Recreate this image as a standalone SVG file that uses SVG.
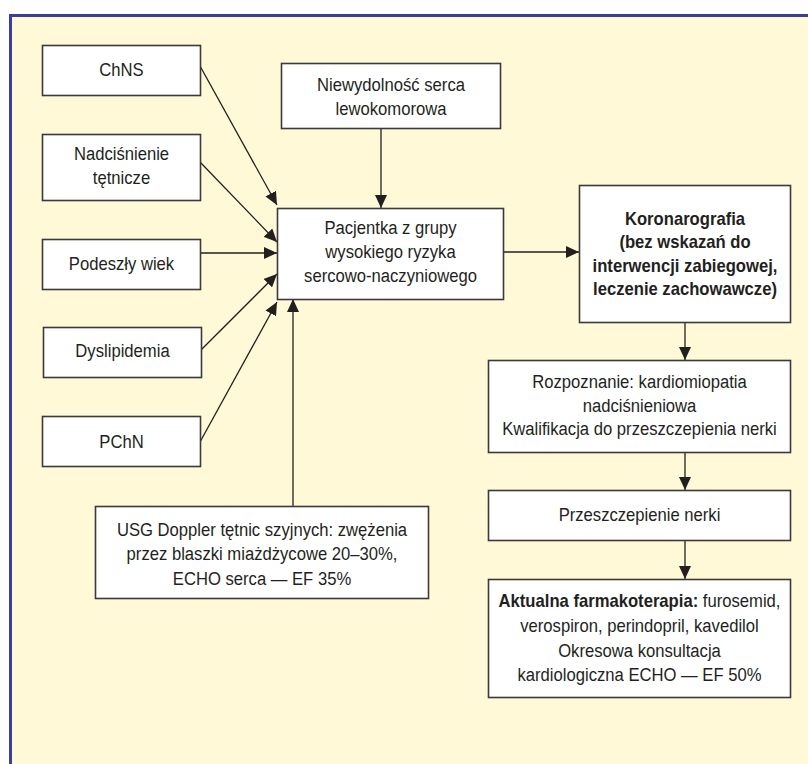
<svg xmlns="http://www.w3.org/2000/svg" width="808" height="764" viewBox="0 0 808 764">
<defs>
<style>
.box{fill:#fff;stroke:#3a3a3a;stroke-width:1.6}
.t{font-family:"Liberation Sans",Arial,sans-serif;font-size:18.5px;fill:#231f20;text-anchor:middle}
.b{font-weight:bold}
.c{fill:none;stroke:#231f20;stroke-width:1.3}
</style>
<marker id="ah" markerUnits="userSpaceOnUse" markerWidth="14" markerHeight="12" refX="13" refY="6" orient="auto">
<path d="M0,0 L13,6 L0,12 z" fill="#231f20"/>
</marker>
</defs>
<rect x="0" y="0" width="808" height="764" fill="#fff"/>
<rect x="10.5" y="15.5" width="810" height="760" fill="#fff9d7" stroke="#3b3e9a" stroke-width="3"/>

<g id="connectors">
<line class="c" x1="200" y1="66" x2="277" y2="205" marker-end="url(#ah)"/>
<line class="c" x1="200" y1="162" x2="277" y2="242" marker-end="url(#ah)"/>
<line class="c" x1="200" y1="253" x2="277" y2="253" marker-end="url(#ah)"/>
<line class="c" x1="201" y1="350" x2="277" y2="274" marker-end="url(#ah)"/>
<line class="c" x1="200" y1="442" x2="277" y2="302" marker-end="url(#ah)"/>
<line class="c" x1="293" y1="506" x2="293" y2="299" marker-end="url(#ah)"/>
<line class="c" x1="381" y1="128" x2="381" y2="208" marker-end="url(#ah)"/>
<line class="c" x1="503" y1="252" x2="579" y2="252" marker-end="url(#ah)"/>
<line class="c" x1="685" y1="322" x2="685" y2="360" marker-end="url(#ah)"/>
<line class="c" x1="685" y1="452" x2="685" y2="490" marker-end="url(#ah)"/>
<line class="c" x1="685" y1="540" x2="685" y2="579" marker-end="url(#ah)"/>
</g>

<g id="chns">
<rect class="box" x="42.5" y="45.5" width="158" height="50"/>
<g transform="translate(121.5 0) scale(0.9 1)"><text class="t" x="0" y="76">ChNS</text></g>
</g>
<g id="nadcisnienie">
<rect class="box" x="42.5" y="134.5" width="158" height="66"/>
<g transform="translate(121.5 0) scale(0.9 1)">
<text class="t" x="0" y="160">Nadciśnienie</text>
<text class="t" x="0" y="184">tętnicze</text>
</g>
</g>
<g id="wiek">
<rect class="box" x="42.5" y="239.5" width="158" height="50"/>
<g transform="translate(121.5 0) scale(0.9 1)"><text class="t" x="0" y="270">Podeszły wiek</text></g>
</g>
<g id="dyslipidemia">
<rect class="box" x="43.5" y="327.5" width="158" height="50"/>
<g transform="translate(122.5 0) scale(0.9 1)"><text class="t" x="0" y="357">Dyslipidemia</text></g>
</g>
<g id="pchn">
<rect class="box" x="42.5" y="416.5" width="158" height="50"/>
<g transform="translate(121.5 0) scale(0.9 1)"><text class="t" x="0" y="448">PChN</text></g>
</g>
<g id="niewydolnosc">
<rect class="box" x="281.5" y="63.5" width="219" height="65"/>
<g transform="translate(391 0) scale(0.9 1)">
<text class="t" x="0" y="91">Niewydolność serca</text>
<text class="t" x="0" y="115">lewokomorowa</text>
</g>
</g>
<g id="pacjentka">
<rect class="box" x="277.5" y="208.5" width="226" height="91"/>
<g transform="translate(390.5 0) scale(0.9 1)">
<text class="t" x="0" y="234">Pacjentka z grupy</text>
<text class="t" x="0" y="258">wysokiego ryzyka</text>
<text class="t" x="0" y="282">sercowo-naczyniowego</text>
</g>
</g>
<g id="koronarografia">
<rect class="box" x="579.5" y="185.5" width="211" height="137"/>
<g transform="translate(685 0) scale(0.9 1)">
<text class="t b" x="0" y="225">Koronarografia</text>
<text class="t b" x="0" y="248">(bez wskazań do</text>
<text class="t b" x="0" y="272">interwencji zabiegowej,</text>
<text class="t b" x="0" y="295">leczenie zachowawcze)</text>
</g>
</g>
<g id="rozpoznanie">
<rect class="box" x="488.5" y="360.5" width="302" height="92"/>
<g transform="translate(639.5 0) scale(0.9 1)">
<text class="t" x="0" y="388">Rozpoznanie: kardiomiopatia</text>
<text class="t" x="0" y="412">nadciśnieniowa</text>
<text class="t" x="0" y="435">Kwalifikacja do przeszczepienia nerki</text>
</g>
</g>
<g id="przeszczepienie">
<rect class="box" x="488.5" y="490.5" width="302" height="50"/>
<g transform="translate(639.5 0) scale(0.9 1)"><text class="t" x="0" y="521">Przeszczepienie nerki</text></g>
</g>
<g id="farmakoterapia">
<rect class="box" x="488.5" y="579.5" width="302" height="118"/>
<g transform="translate(639.5 0) scale(0.9 1)">
<text class="t" x="0" y="607"><tspan class="b">Aktualna farmakoterapia:</tspan> furosemid,</text>
<text class="t" x="0" y="632">verospiron, perindopril, kavedilol</text>
<text class="t" x="0" y="657">Okresowa konsultacja</text>
<text class="t" x="0" y="681">kardiologiczna ECHO — EF 50%</text>
</g>
</g>
<g id="usg">
<rect class="box" x="95.5" y="506.5" width="333" height="92"/>
<g transform="translate(262 0) scale(0.9 1)">
<text class="t" x="0" y="536">USG Doppler tętnic szyjnych: zwężenia</text>
<text class="t" x="0" y="560">przez blaszki miażdżycowe 20–30%,</text>
<text class="t" x="0" y="585">ECHO serca — EF 35%</text>
</g>
</g>
</svg>
